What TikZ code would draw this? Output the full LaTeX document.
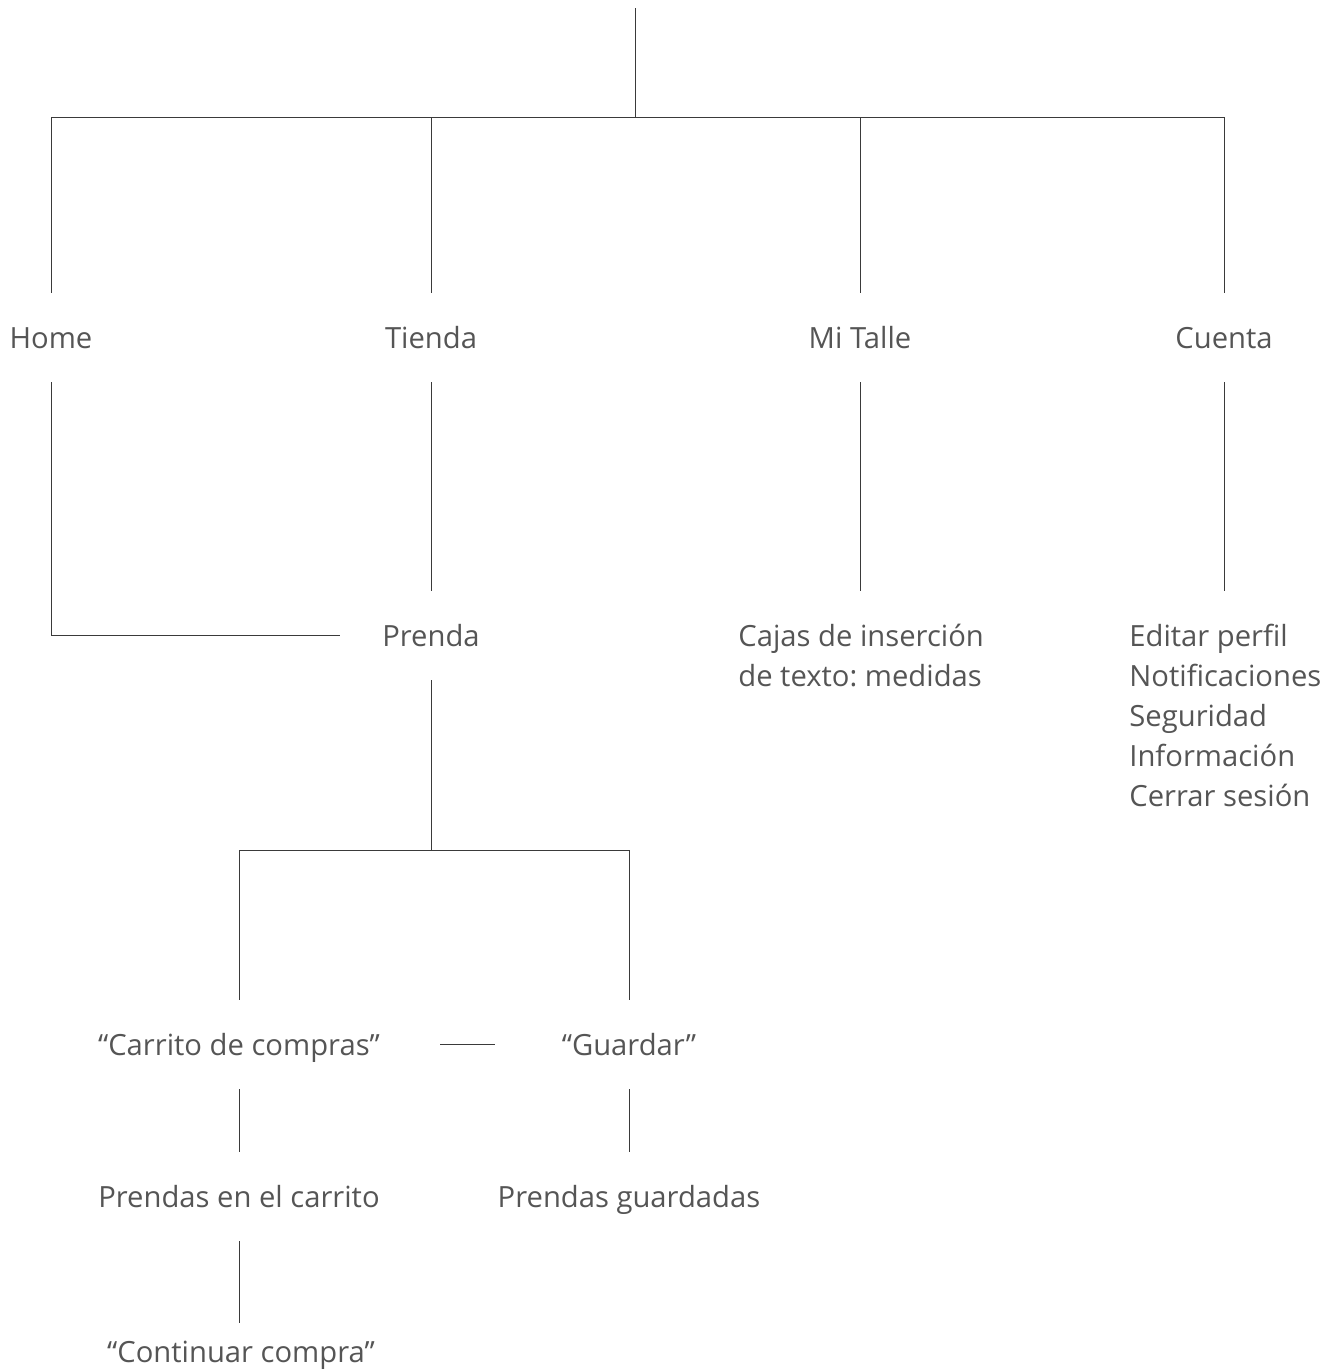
\documentclass[tikz,border=0pt]{standalone}
\usepackage{fontspec}
\setmainfont{Open Sans}
\usetikzlibrary{positioning}
\frenchspacing
\definecolor{txtGray}{HTML}{555555}
\definecolor{lineGray}{HTML}{3A3A3A}
\tikzset{
  lbl/.style={font=\fontsize{14.6}{20}\selectfont, text=txtGray, anchor=base,
              inner xsep=21pt, inner ysep=17pt, text height=10.5pt, text depth=0pt},
  lst/.style={font=\fontsize{14.6}{20}\selectfont, text=txtGray, align=left,
              inner sep=0pt, anchor=base west},
  link/.style={draw=lineGray, line width=0.5pt},
}

\begin{document}
\begin{tikzpicture}[x=0.5pt, y=-0.5pt]
  \useasboundingbox (0,0) rectangle (1339,1372);

  % top level
  \coordinate (root) at (635,8);
  \coordinate (hub) at (635,117);
  \node[lbl] (home) at (51,348) {Home};
  \node[lbl] (tienda) at (431,348) {Tienda};
  \node[lbl] (talle) at (860,348) {Mi Talle};
  \node[lbl] (cuenta) at (1224,348) {Cuenta};

  % second level (lists placed by the baseline of their last line)
  \node[lbl] (prenda) at (431,646) {Prenda};
  \node[lst] (cajas) at (738,686) {Cajas de inserción\\de texto: medidas};
  \node[lst] (opciones) at (1129,806) {Editar perfil\\Notificaciones\\Seguridad\\Información\\Cerrar sesión};

  % third level
  \coordinate (split) at (431,850);
  \node[lbl] (carrito) at (239,1055) {“Carrito de compras”};
  \node[lbl] (guardar) at (629,1055) {“Guardar”};
  \node[lbl] (encarrito) at (239,1207) {Prendas en el carrito};
  \node[lbl] (guardadas) at (629,1207) {Prendas guardadas};
  \node[lbl] (continuar) at (241,1362) {“Continuar compra”};

  \draw[link] (root) -- (hub);
  \draw[link] (home.north |- hub) -- (cuenta.north |- hub);
  \foreach \n in {home, tienda, talle, cuenta}
    \draw[link] (\n.north) -- (\n.north |- hub);

  \draw[link] (home.south) |- (prenda.west);
  \draw[link] (tienda.south) -- (prenda.north);
  \draw[link] (talle.south) -- (talle.south |- prenda.north);
  \draw[link] (cuenta.south) -- (cuenta.south |- prenda.north);

  \draw[link] (prenda.south) -- (split);
  \draw[link] (carrito.north) |- (split) -| (guardar.north);
  \draw[link, shorten <=9pt, shorten >=12pt] (carrito.east) -- (guardar.west);
  \draw[link] (carrito.south) -- (encarrito.north);
  \draw[link] (guardar.south) -- (guardadas.north);
  \draw[link] (encarrito.south) -- ([yshift=-8pt]encarrito.south |- continuar.north);
\end{tikzpicture}
\end{document}
